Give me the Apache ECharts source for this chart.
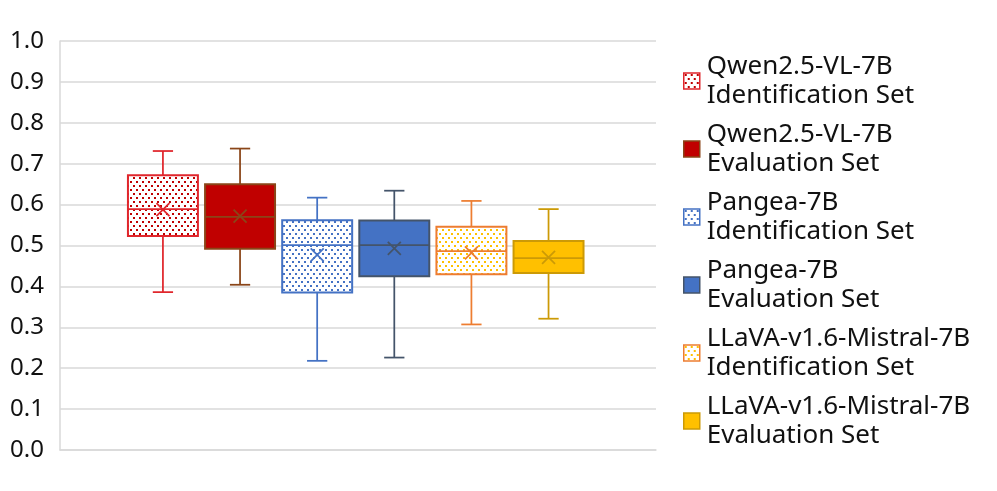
<!DOCTYPE html>
<html>
<head>
<meta charset="utf-8">
<script src="https://cdn.jsdelivr.net/npm/echarts@6/dist/echarts.min.js"></script>
<style>
  html, body { margin: 0; padding: 0; background: #fff; }
  #chart { width: 997px; height: 491px; }
</style>
</head>
<body>
<div id="chart"></div>
<script>
// box statistics, one entry per box (left to right)
const seriesNames = [
  'Qwen2.5-VL-7B\nIdentification Set',
  'Qwen2.5-VL-7B\nEvaluation Set',
  'Pangea-7B\nIdentification Set',
  'Pangea-7B\nEvaluation Set',
  'LLaVA-v1.6-Mistral-7B\nIdentification Set',
  'LLaVA-v1.6-Mistral-7B\nEvaluation Set'
]
const minValues = [0.386, 0.404, 0.218, 0.226, 0.307, 0.321]
const q1Values = [0.523, 0.492, 0.385, 0.425, 0.430, 0.433]
const medianValues = [0.589, 0.570, 0.501, 0.501, 0.486, 0.469]
const q3Values = [0.672, 0.650, 0.562, 0.561, 0.546, 0.511]
const maxValues = [0.731, 0.737, 0.617, 0.634, 0.609, 0.589]
const meanValues = [0.588, 0.572, 0.477, 0.493, 0.482, 0.471]
const yMin = 0
const yMax = 1
const yStep = 0.1

// look of each box
const borderColors = ['#E0262C', '#8A4518', '#4472C4', '#44546A', '#ED7D31', '#CC9A06']
const fillColors = [null, '#C00000', null, '#4472C4', null, '#FFC000']
const dotColors = ['#C00000', null, '#4472C4', null, '#FFC000', null]

const FONT = '"Noto Sans", sans-serif'

// dotted fill used for the identification sets
const makeDots = (color) => {
  const c = document.createElement('canvas')
  c.width = 6
  c.height = 8
  const ctx = c.getContext('2d')
  ctx.fillStyle = '#fff'
  ctx.fillRect(0, 0, 6, 8)
  ctx.fillStyle = color
  ctx.fillRect(1, 1, 2, 2)
  ctx.fillRect(4, 5, 2, 2)
  return { image: c, repeat: 'repeat' }
}

const fills = fillColors.map((f, i) => f || makeDots(dotColors[i]))

// layout of the boxes inside the single category band (fractions of band width)
const STEP = 0.1294
const SHIFT = -0.0038
const BOX = 0.1174
const CAP = 0.034

const renderBox = (params, api) => {
  const k = params.seriesIndex
  const band = api.size([1, 0])[0]
  const cx = api.coord([0, 0])[0] + ((k - 2.5) * STEP + SHIFT) * band
  const hw = band * BOX / 2
  const cw = band * CAP / 2
  const y = (v) => api.coord([0, v])[1]
  const yLo = y(api.value(1))
  const yQ1 = y(api.value(2))
  const yMed = y(api.value(3))
  const yQ3 = y(api.value(4))
  const yHi = y(api.value(5))
  const yMean = y(api.value(6))
  const line = { stroke: borderColors[k], lineWidth: 1.75, fill: null }
  const m = 6.5
  return {
    type: 'group',
    children: [
      { type: 'line', shape: { x1: cx, y1: yHi, x2: cx, y2: yQ3 }, style: line },
      { type: 'line', shape: { x1: cx, y1: yQ1, x2: cx, y2: yLo }, style: line },
      { type: 'line', shape: { x1: cx - cw, y1: yHi, x2: cx + cw, y2: yHi }, style: line },
      { type: 'line', shape: { x1: cx - cw, y1: yLo, x2: cx + cw, y2: yLo }, style: line },
      {
        type: 'rect',
        shape: { x: cx - hw, y: yQ3, width: hw * 2, height: yQ1 - yQ3 },
        style: { fill: fills[k], stroke: borderColors[k], lineWidth: 2 }
      },
      { type: 'line', shape: { x1: cx - hw, y1: yMed, x2: cx + hw, y2: yMed }, style: line },
      { type: 'line', shape: { x1: cx - m, y1: yMean - m, x2: cx + m, y2: yMean + m }, style: line },
      { type: 'line', shape: { x1: cx - m, y1: yMean + m, x2: cx + m, y2: yMean - m }, style: line }
    ]
  }
}

const chart = echarts.init(document.getElementById('chart'))

const option = {
  animation: false,
  textStyle: { fontFamily: FONT },
  grid: {
    left: 60,
    right: 341,
    top: 41,
    bottom: 41
  },
  legend: {
    orient: 'vertical',
    left: 683,
    top: 52,
    padding: 0,
    itemWidth: 16,
    itemHeight: 16,
    itemGap: 10,
    icon: 'rect',
    textStyle: {
      fontFamily: FONT,
      fontSize: 26,
      lineHeight: 29,
      color: '#111',
      padding: [0, 0, 0, 2]
    },
    data: seriesNames.map((name, i) => ({
      name: name,
      itemStyle: { color: fills[i], borderColor: borderColors[i], borderWidth: 1.5 }
    }))
  },
  xAxis: {
    type: 'category',
    data: [''],
    axisLine: { lineStyle: { color: '#d9d9d9', width: 1.5 } },
    axisTick: { show: false },
    axisLabel: { show: false }
  },
  yAxis: {
    type: 'value',
    min: yMin,
    max: yMax,
    interval: yStep,
    axisLine: { show: true, lineStyle: { color: '#d9d9d9', width: 1.5 } },
    axisTick: { show: false },
    axisLabel: {
      margin: 16,
      fontSize: 24,
      color: '#111',
      fontFamily: FONT,
      formatter: (v) => v.toFixed(1)
    },
    splitLine: { lineStyle: { color: '#d9d9d9', width: 1.5 } }
  },
  series: seriesNames.map((name, i) => ({
    name: name,
    type: 'custom',
    renderItem: renderBox,
    itemStyle: { color: fills[i], borderColor: borderColors[i] },
    encode: { x: 0, y: [1, 2, 3, 4, 5, 6] },
    data: [[0, minValues[i], q1Values[i], medianValues[i], q3Values[i], maxValues[i], meanValues[i]]]
  }))
}

chart.setOption(option)
</script>
</body>
</html>
